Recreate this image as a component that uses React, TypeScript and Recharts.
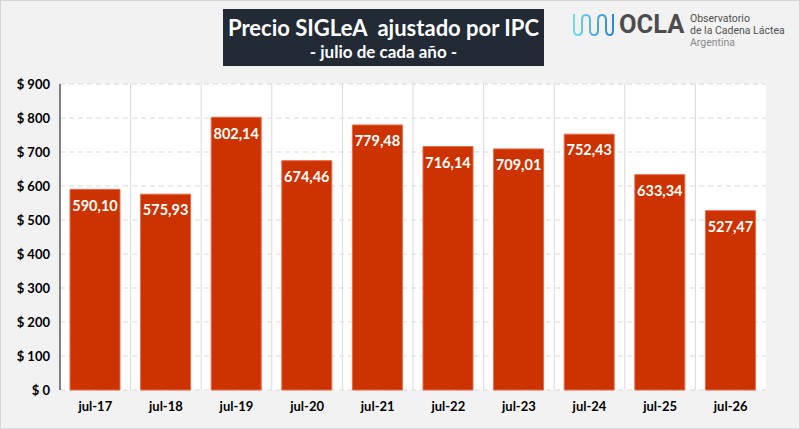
import React from "react";
import {
  BarChart,
  Bar,
  XAxis,
  YAxis,
  CartesianGrid,
  LabelList,
} from "recharts";

const months = ["jul-17", "jul-18", "jul-19", "jul-20", "jul-21", "jul-22", "jul-23", "jul-24", "jul-25", "jul-26"];
const prices = [590.1, 575.93, 802.14, 674.46, 779.48, 716.14, 709.01, 752.43, 633.34, 527.47];
const yTicks = [0, 100, 200, 300, 400, 500, 600, 700, 800, 900];

const data = months.map((m, i) => ({ month: m, price: prices[i] }));

const FONT = "Lato, 'Open Sans', sans-serif";

const fmtPrice = (v: number) => v.toFixed(2).replace(".", ",");

function OclaLogo() {
  return (
    <div style={{ position: "absolute", left: 570, top: 0, width: 225, height: 50 }}>
      <svg width={44} height={26} style={{ position: "absolute", left: 0, top: 11 }}>
        <defs>
          <linearGradient id="wave" x1="0" x2="1" y1="0" y2="0">
            <stop offset="0%" stopColor="#6fdcee" />
            <stop offset="100%" stopColor="#2f86d8" />
          </linearGradient>
        </defs>
        <path
          d="M3 2 V18 Q3 23 7 23 Q11 23 11 18 V8 Q11 3 15 3 Q19 3 19 8 V18 Q19 23 23 23 Q27 23 27 18 V8 Q27 3 31 3 Q35 3 35 8 V18 Q35 23 39 23 Q42 23 42 18 V2"
          fill="none"
          stroke="url(#wave)"
          strokeWidth={2}
        />
      </svg>
      <div
        style={{
          position: "absolute",
          left: 48,
          top: 7,
          fontFamily: "Roboto, sans-serif",
          fontWeight: 700,
          fontSize: 25.5,
          lineHeight: "32px",
          color: "#4d4d4d",
          whiteSpace: "nowrap",
        }}
      >
        OCLA
      </div>
      <div
        style={{
          position: "absolute",
          left: 119,
          top: 12,
          fontFamily: "Roboto, sans-serif",
          fontSize: 10.5,
          lineHeight: "12px",
          color: "#505050",
          whiteSpace: "nowrap",
        }}
      >
        <div>Observatorio</div>
        <div>de la Cadena Láctea</div>
        <div style={{ color: "#8a8a8a" }}>Argentina</div>
      </div>
    </div>
  );
}

export default function App() {
  return (
    <div
      style={{
        position: "absolute",
        left: 0,
        top: 0,
        width: 800,
        height: 429,
        boxSizing: "border-box",
        background: "#f2f2f2",
        border: "1px solid #d6d6d6",
        fontFamily: FONT,
      }}
    >
      <div
        style={{
          position: "absolute",
          left: 222,
          top: 8,
          width: 321,
          height: 57,
          background: "#222a35",
          color: "#fff",
          textAlign: "center",
          fontWeight: 700,
          whiteSpace: "nowrap",
        }}
      >
        <div style={{ fontSize: 22, lineHeight: "26px", marginTop: 6 }}>Precio SIGLeA&nbsp; ajustado por IPC</div>
        <div style={{ fontSize: 17, lineHeight: "22px", marginTop: 0 }}>- julio de cada año -</div>
      </div>

      <OclaLogo />

      <div style={{ position: "absolute", left: -1, top: -1 }}>
        <BarChart
          width={800}
          height={429}
          data={data}
          margin={{ top: 84, right: 34, bottom: 0, left: 0 }}
        >
          <CartesianGrid
            horizontal
            vertical={false}
            fill="#ffffff"
            stroke="#d9d9d9"
            strokeDasharray="5 4"
          />
          <CartesianGrid
            horizontal={false}
            vertical
            stroke="#d9d9d9"
            verticalCoordinatesGenerator={({ offset }: any) =>
              months.slice(1).map((_, i) => offset.left + ((i + 1) * offset.width) / months.length)
            }
          />
          <XAxis
            dataKey="month"
            height={39}
            axisLine={false}
            tickLine={false}
            tickMargin={6}
            tick={{ fill: "#000", fontSize: 13, fontWeight: 700, fontFamily: FONT }}
          />
          <XAxis
            xAxisId="top"
            dataKey="month"
            orientation="top"
            height={0}
            tick={false}
            tickLine={false}
            axisLine={{ stroke: "#404040", strokeWidth: 1.3 }}
          />
          <YAxis
            width={60}
            domain={[0, 900]}
            ticks={yTicks}
            interval={0}
            axisLine={{ stroke: "#404040", strokeWidth: 1.3 }}
            tickLine={false}
            tickMargin={4}
            tickFormatter={(v: number) => `$ ${v}`}
            tick={{ fill: "#000", fontSize: 13, fontWeight: 700, fontFamily: FONT }}
          />
          <YAxis
            yAxisId="right"
            orientation="right"
            width={0}
            domain={[0, 900]}
            tick={false}
            tickLine={false}
            axisLine={{ stroke: "#404040", strokeWidth: 1.3 }}
          />
          <Bar
            dataKey="price"
            fill="#cc3300"
            stroke="#e8694a"
            strokeWidth={1}
            barSize={50}
            isAnimationActive={false}
          >
            <LabelList
              dataKey="price"
              position="insideTop"
              offset={11}
              formatter={(v: any) => fmtPrice(Number(v))}
              style={{ fill: "#fff", fontSize: 14.5, fontWeight: 700, fontFamily: FONT }}
            />
          </Bar>
        </BarChart>
      </div>
    </div>
  );
}
